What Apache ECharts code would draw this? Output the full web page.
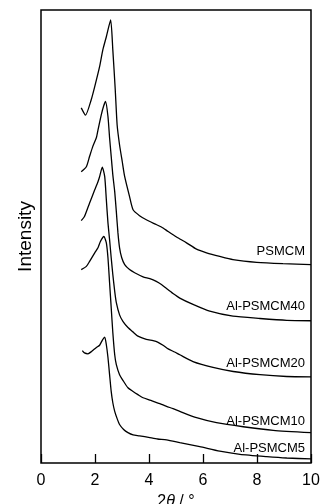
<!DOCTYPE html>
<html>
<head>
<meta charset="utf-8">
<script src="https://cdn.jsdelivr.net/npm/echarts@6/dist/echarts.min.js"></script>
<style>
  html, body { margin: 0; padding: 0; background: #fff; }
  #chart { width: 321px; height: 504px; }
</style>
</head>
<body>
<div id="chart"></div>
<script>
// 2θ (deg) vs intensity (a.u., offset stack)
const psmcm = [
  [1.49, 78.4], [1.65, 76.8], [1.86, 80.2], [1.99, 83.1], [2.17, 87.5], [2.29, 91.2], [2.42, 94.1], [2.58, 97.8],
  [2.66, 91.2], [2.75, 82.4], [2.82, 74.6], [2.91, 70.2], [3.01, 66.5], [3.10, 63.2], [3.28, 58.8], [3.41, 55.9],
  [3.65, 54.6], [3.90, 53.7], [4.21, 52.8], [4.46, 52.1], [4.71, 51.1], [5.02, 49.9], [5.39, 48.6], [5.76, 47.2],
  [6.13, 46.4], [6.62, 45.6], [7.11, 44.9], [7.99, 44.3], [8.96, 44.0], [10, 43.8]
];
const al40 = [
  [1.49, 64.3], [1.68, 65.4], [1.80, 67.7], [1.92, 69.9], [2.05, 71.8], [2.11, 73.5], [2.23, 76.8], [2.32, 78.8],
  [2.39, 79.8], [2.48, 76.5], [2.54, 71.8], [2.60, 67.7], [2.66, 63.6], [2.73, 59.9], [2.79, 55.5], [2.85, 50.8],
  [2.91, 47.5], [2.99, 45.3], [3.10, 43.8], [3.28, 42.7], [3.47, 42.0], [3.78, 41.1], [4.03, 40.7], [4.27, 40.1],
  [4.46, 39.4], [4.65, 38.5], [4.89, 37.4], [5.14, 36.4], [5.63, 35.0], [6.25, 33.5], [7.11, 32.4], [8.11, 31.9],
  [9.10, 31.5], [10, 31.4]
];
const al20 = [
  [1.49, 53.5], [1.61, 54.4], [1.80, 57.4], [1.99, 60.3], [2.11, 62.1], [2.17, 63.2], [2.27, 65.3],
  [2.36, 63.2], [2.42, 58.1], [2.48, 53.0], [2.54, 49.3], [2.60, 45.3], [2.66, 41.6], [2.73, 37.9], [2.79, 35.4],
  [2.91, 32.7], [3.04, 31.2], [3.22, 29.9], [3.41, 28.9], [3.59, 28.0], [3.90, 27.3], [4.15, 27.0], [4.32, 26.7],
  [4.52, 26.0], [4.71, 25.2], [4.95, 24.5], [5.14, 23.9], [5.63, 22.4], [6.37, 21.1], [7.12, 20.2], [8.11, 19.5],
  [9.10, 19.1], [10, 19.0]
];
const al10 = [
  [1.49, 42.7], [1.68, 43.4], [1.80, 44.5], [1.99, 46.4], [2.11, 47.5], [2.20, 48.9], [2.33, 50.0],
  [2.42, 48.6], [2.48, 45.3], [2.54, 39.8], [2.60, 34.3], [2.66, 28.8], [2.73, 23.9], [2.79, 21.7], [2.91, 19.5],
  [3.04, 18.2], [3.22, 16.6], [3.41, 15.8], [3.59, 15.1], [3.78, 14.4], [4.03, 13.9], [4.21, 13.5], [4.40, 13.1],
  [4.65, 12.5], [4.89, 12.0], [5.14, 11.4], [5.76, 10.0], [6.50, 8.9], [7.49, 8.0], [8.60, 7.2], [10, 6.7]
];
const al5 = [
  [1.53, 24.8], [1.61, 24.3], [1.74, 24.1], [1.87, 24.6], [2.05, 25.5], [2.17, 26.0], [2.28, 27.2], [2.36, 27.8],
  [2.42, 26.1], [2.48, 23.3], [2.54, 19.5], [2.60, 15.8], [2.66, 13.3], [2.73, 11.4], [2.82, 9.8], [2.91, 8.5],
  [3.06, 7.4], [3.22, 6.7], [3.41, 6.2], [3.65, 6.0], [4.03, 5.6], [4.32, 5.3], [4.65, 5.1], [5.14, 4.5],
  [5.88, 3.6], [6.62, 2.6], [7.37, 1.9], [8.36, 1.4], [9.10, 1.1], [10, 0.9]
];

const names = ["PSMCM", "Al-PSMCM40", "Al-PSMCM20", "Al-PSMCM10", "Al-PSMCM5"];
const curves = [psmcm, al40, al20, al10, al5];
const labelY = [251.5, 306, 363, 421, 448];
const xTicks = [0, 2, 4, 6, 8, 10];

const font = "'Liberation Sans', Arial, sans-serif";

const chart = echarts.init(document.getElementById("chart"));

chart.setOption({
  animation: false,
  grid: {
    left: 41, right: 10, top: 10, bottom: 41,
    containLabel: false,
    outerBoundsMode: "none",
    show: true,
    borderColor: "#000",
    borderWidth: 1.5
  },
  xAxis: {
    type: "value",
    min: 0, max: 10, interval: 2,
    axisLine: { show: false },
    axisTick: { show: true, inside: true, length: 9, lineStyle: { color: "#000", width: 1.3 } },
    splitLine: { show: false },
    axisLabel: {
      margin: 10, fontSize: 16, color: "#000", fontFamily: font,
      formatter: (v) => (xTicks.includes(v) ? String(v) : "")
    },
    name: "2{i|θ} / °",
    nameLocation: "middle",
    nameGap: 26,
    nameTextStyle: {
      fontSize: 16, color: "#000", fontFamily: font,
      rich: { i: { fontStyle: "italic", fontSize: 16, fontFamily: font, color: "#000" } }
    }
  },
  yAxis: {
    type: "value",
    min: 0, max: 100,
    axisLine: { show: false },
    axisTick: { show: false },
    axisLabel: { show: false },
    splitLine: { show: false },
    name: "Intensity",
    nameLocation: "middle",
    nameGap: 6,
    nameTextStyle: { fontSize: 19, color: "#000", fontFamily: font }
  },
  series: curves.map((d, i) => ({
    name: names[i],
    type: "line",
    data: d,
    showSymbol: false,
    smooth: 0.2,
    lineStyle: { color: "#000", width: 1.3 }
  })),
  graphic: names.map((n, i) => ({
    type: "text",
    x: 305,
    y: labelY[i],
    style: {
      text: n,
      fontSize: 13,
      fontFamily: font,
      fill: "#000",
      align: "right",
      verticalAlign: "middle"
    }
  }))
});
</script>
</body>
</html>
